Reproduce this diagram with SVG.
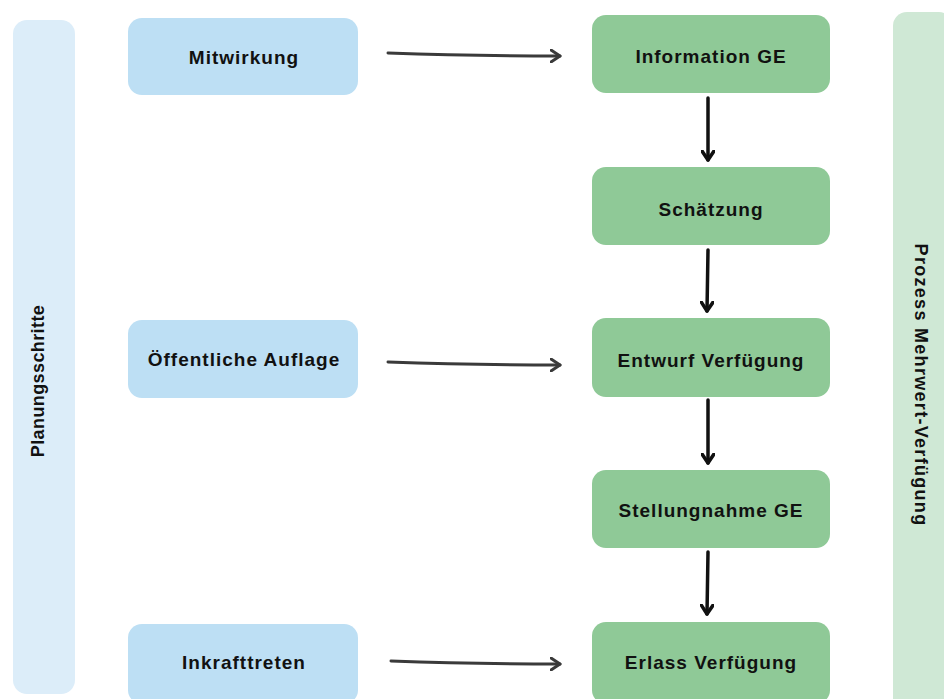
<svg xmlns="http://www.w3.org/2000/svg" width="944" height="699" viewBox="0 0 944 699">
<style>
.bar-l{fill:#dcedf9}
.bar-r{fill:#cfe8d5}
.blue{fill:#bddff4}
.green{fill:#8fc997}
.t{font-family:"Liberation Sans",Arial,sans-serif;font-size:19px;font-weight:bold;letter-spacing:1px;fill:#111;text-anchor:middle;dominant-baseline:central}
.lane{font-size:18px}
.h{stroke:#3a3a3a;stroke-width:3;fill:none;stroke-linecap:round}
.v{stroke:#111;stroke-width:3.5;fill:none;stroke-linecap:round}
</style>
<defs>
<marker id="ah" markerWidth="12" markerHeight="14" refX="10" refY="7" orient="auto" markerUnits="userSpaceOnUse">
<path d="M1,1 L10,7 L1,13" fill="none" stroke="#3a3a3a" stroke-width="3" stroke-linecap="round" stroke-linejoin="round"/>
</marker>
<marker id="av" markerWidth="14" markerHeight="14" refX="10" refY="7" orient="auto" markerUnits="userSpaceOnUse">
<path d="M1,1 L10,7 L1,13" fill="none" stroke="#111" stroke-width="3.5" stroke-linecap="round" stroke-linejoin="round"/>
</marker>
</defs>
<g id="lane-left">
<rect class="bar-l" x="13" y="20" width="62" height="674" rx="14"/>
<text class="t lane" style="letter-spacing:0.4px" transform="translate(38,381) rotate(-90)">Planungsschritte</text>
</g>
<g id="lane-right">
<rect class="bar-r" x="893" y="12" width="60" height="700" rx="14"/>
<text class="t lane" style="letter-spacing:1.3px" transform="translate(921,385) rotate(90)">Prozess Mehrwert-Verfügung</text>
</g>
<g id="mitwirkung"><rect class="blue" x="128" y="18" width="230" height="77" rx="14"/><text class="t" x="244" y="57">Mitwirkung</text></g>
<g id="oeffentliche-auflage"><rect class="blue" x="128" y="320" width="230" height="78" rx="14"/><text class="t" x="244" y="359">Öffentliche Auflage</text></g>
<g id="inkrafttreten"><rect class="blue" x="128" y="624" width="230" height="80" rx="14"/><text class="t" x="244" y="662">Inkrafttreten</text></g>
<g id="information-ge"><rect class="green" x="592" y="15" width="238" height="78" rx="14"/><text class="t" x="711" y="56">Information GE</text></g>
<g id="schaetzung"><rect class="green" x="592" y="167" width="238" height="78" rx="14"/><text class="t" x="711" y="209">Schätzung</text></g>
<g id="entwurf-verfuegung"><rect class="green" x="592" y="318" width="238" height="79" rx="14"/><text class="t" x="711" y="360">Entwurf Verfügung</text></g>
<g id="stellungnahme-ge"><rect class="green" x="592" y="470" width="238" height="78" rx="14"/><text class="t" x="711" y="510">Stellungnahme GE</text></g>
<g id="erlass-verfuegung"><rect class="green" x="592" y="622" width="238" height="82" rx="14"/><text class="t" x="711" y="662">Erlass Verfügung</text></g>
<g id="connectors">
<path class="h" d="M388,53 Q470,56 560,56" marker-end="url(#ah)"/>
<path class="h" d="M388,362 Q470,365 560,365" marker-end="url(#ah)"/>
<path class="h" d="M391,661 Q470,664 560,664" marker-end="url(#ah)"/>
<path class="v" d="M708,98 L708,160" marker-end="url(#av)"/>
<path class="v" d="M708,250 L707,311" marker-end="url(#av)"/>
<path class="v" d="M708,400 L708,463" marker-end="url(#av)"/>
<path class="v" d="M708,552 L707,614" marker-end="url(#av)"/>
</g>
</svg>
